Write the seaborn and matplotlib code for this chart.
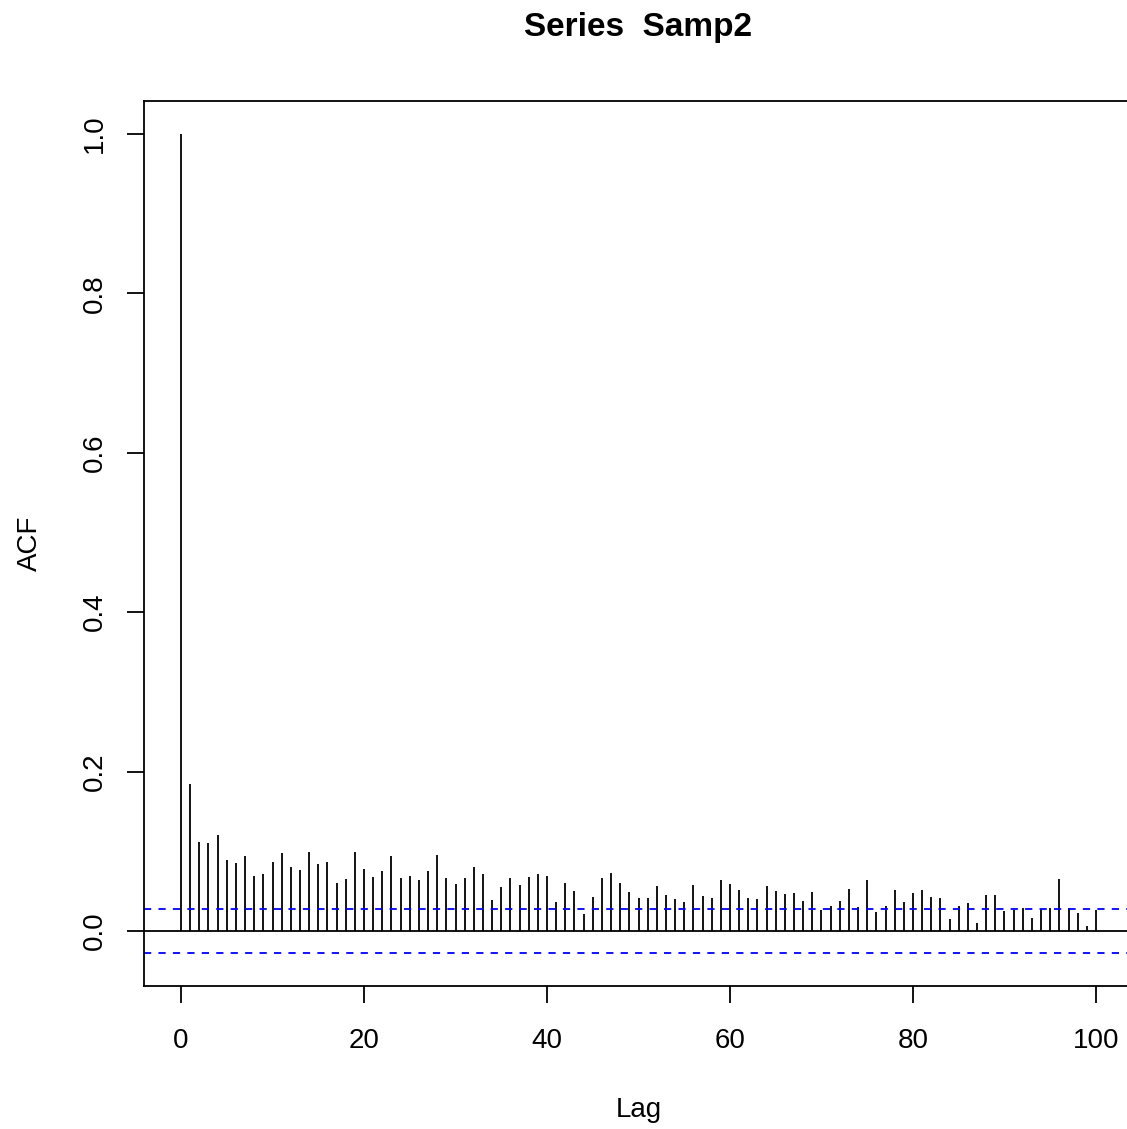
import numpy as np
import pandas as pd
import matplotlib
matplotlib.use("Agg")
import matplotlib.pyplot as plt
import seaborn as sns

lags = list(range(0, 101))
acf_values = [
    1.0, 0.184, 0.112, 0.110, 0.120, 0.089, 0.085, 0.094, 0.069, 0.072,
    0.086, 0.098, 0.080, 0.076, 0.099, 0.084, 0.087, 0.060, 0.065, 0.099,
    0.078, 0.068, 0.075, 0.094, 0.067, 0.069, 0.064, 0.075, 0.096, 0.067,
    0.059, 0.067, 0.080, 0.072, 0.039, 0.055, 0.066, 0.058, 0.068, 0.071,
    0.069, 0.037, 0.060, 0.050, 0.021, 0.043, 0.067, 0.073, 0.060, 0.049,
    0.042, 0.042, 0.056, 0.045, 0.040, 0.036, 0.058, 0.044, 0.041, 0.064,
    0.059, 0.052, 0.042, 0.040, 0.057, 0.050, 0.047, 0.048, 0.038, 0.049,
    0.026, 0.032, 0.038, 0.053, 0.030, 0.064, 0.024, 0.032, 0.052, 0.036,
    0.048, 0.052, 0.043, 0.042, 0.015, 0.031, 0.035, 0.010, 0.045, 0.045,
    0.025, 0.026, 0.029, 0.016, 0.028, 0.029, 0.065, 0.029, 0.023, 0.006,
    0.026,
]
ci_bound = 0.0278
x_ticks = [0, 20, 40, 60, 80, 100]
y_ticks = [0.0, 0.2, 0.4, 0.6, 0.8, 1.0]
y_tick_labels = ["0.0", "0.2", "0.4", "0.6", "0.8", "1.0"]
title = "Series  Samp2"

df = pd.DataFrame({"lag": lags, "acf": acf_values})

sns.set_theme(style="white")
plt.rcParams["font.family"] = ["Liberation Sans", "DejaVu Sans"]

W, H = 1127, 1129
fig = plt.figure(figsize=(W / 100, H / 100), dpi=100)
ax_left, ax_right = 144.4, 1132.6
ax_top, ax_bottom = 101, 986
ax = fig.add_axes([ax_left / W, (H - ax_bottom) / H,
                   (ax_right - ax_left) / W, (ax_bottom - ax_top) / H])

lw = 1.3
ax.vlines(df["lag"], 0, df["acf"], color="black", linewidth=lw)
ax.axhline(0, color="black", linewidth=lw)
for b in (ci_bound, -ci_bound):
    ax.axhline(b, color="blue", linewidth=lw, linestyle=(0, (4, 4)))

ax.set_xlim(-4, 104)
ax.set_ylim(-0.0689, 1.0411)
ax.set_xticks(x_ticks)
ax.set_xticklabels([str(t) for t in x_ticks])
ax.set_yticks(y_ticks)
ax.set_yticklabels(y_tick_labels)

for s in ax.spines.values():
    s.set_color("black")
    s.set_linewidth(lw)

ax.tick_params(axis="both", which="major", direction="out", length=12.5,
               width=lw, color="black", labelsize=20, labelcolor="black",
               bottom=True, left=True)
ax.tick_params(axis="x", pad=18)
ax.tick_params(axis="y", pad=14, labelrotation=90)
for lab in ax.get_yticklabels():
    lab.set_va("center")

ax.set_xlabel("Lag", fontsize=20, color="black", va="center")
ax.xaxis.set_label_coords(0.5, (ax_bottom - 1110) / (ax_bottom - ax_top))
ax.set_ylabel("ACF", fontsize=20, color="black", va="center")
ax.yaxis.set_label_coords((30 - ax_left) / (ax_right - ax_left), 0.5)

fig.text(638 / W, 1 - 36 / H, title, fontsize=24, fontweight="bold",
         ha="center", va="baseline", color="black")

fig.savefig("out.png", dpi=100, facecolor="white")
